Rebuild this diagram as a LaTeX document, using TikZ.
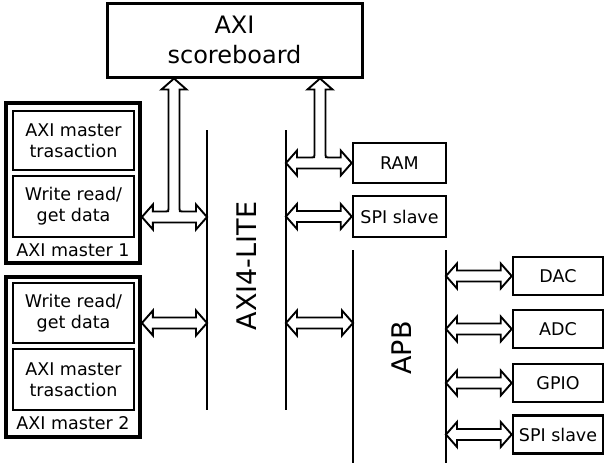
\documentclass[tikz,border=0pt]{standalone}
\usepackage{fontspec}
\setmainfont{DejaVu Sans}
\usetikzlibrary{calc}

% hollow double-headed bus arrows
\newcommand\ahlen{11pt}
\newcommand\ahwid{12.5pt}
\newcommand\ashaft{5.5pt}
\newcommand\biarrow[2]{%
  \draw[hollow] let \p1=(#1), \p2=(#2) in
    (\x1,\y1) -- (\x1+\ahlen,\y1+\ahwid) -- (\x1+\ahlen,\y1+\ashaft)
    -- (\x2-\ahlen,\y1+\ashaft) -- (\x2-\ahlen,\y1+\ahwid) -- (\x2,\y1)
    -- (\x2-\ahlen,\y1-\ahwid) -- (\x2-\ahlen,\y1-\ashaft)
    -- (\x1+\ahlen,\y1-\ashaft) -- (\x1+\ahlen,\y1-\ahwid) -- cycle;}
% same, with a third head going up to the scoreboard
\newcommand\tarrow[3]{%
  \draw[hollow] let \p1=(#1), \p2=(#2), \p3=(#3) in
    (\x1,\y1) -- (\x1+\ahlen,\y1+\ahwid) -- (\x1+\ahlen,\y1+\ashaft)
    -- (\x3-\ashaft-3pt,\y1+\ashaft) .. controls (\x3-\ashaft,\y1+\ashaft) .. (\x3-\ashaft,\y1+\ashaft+3pt)
    -- (\x3-\ashaft,\y3-\ahlen) -- (\x3-\ahwid,\y3-\ahlen) -- (\x3,\y3)
    -- (\x3+\ahwid,\y3-\ahlen) -- (\x3+\ashaft,\y3-\ahlen)
    -- (\x3+\ashaft,\y1+\ashaft+3pt) .. controls (\x3+\ashaft,\y1+\ashaft) .. (\x3+\ashaft+3pt,\y1+\ashaft)
    -- (\x2-\ahlen,\y1+\ashaft) -- (\x2-\ahlen,\y1+\ahwid) -- (\x2,\y1)
    -- (\x2-\ahlen,\y1-\ahwid) -- (\x2-\ahlen,\y1-\ashaft)
    -- (\x1+\ahlen,\y1-\ashaft) -- (\x1+\ahlen,\y1-\ahwid) -- cycle;}

\begin{document}
\begin{tikzpicture}[x=1pt,y=-1pt,
  box/.style={draw,line width=2.6pt,align=center,inner sep=0pt,
    font=\fontsize{17.5}{21}\selectfont},
  outer/.style={draw,line width=3.8pt,minimum width=134,minimum height=160},
  lbl/.style={font=\fontsize{17.5}{21}\selectfont,inner sep=0pt},
  buslbl/.style={font=\fontsize{27}{32}\selectfont,rotate=90,inner sep=0pt},
  bus/.style={line width=1.9pt},
  hollow/.style={draw,fill=white,line width=1.9pt,line join=miter}]
\useasboundingbox (0,0) rectangle (605,464);

% scoreboard
\node[box,line width=3pt,minimum width=255,minimum height=74,
  font=\fontsize{24}{30}\selectfont] (sb) at (234.5,40) {AXI\\scoreboard};

% masters
\node[outer] (m1) at (73,183) {};
\node[box,minimum width=121,minimum height=59] (m1t) at (73.5,140.5) {AXI master\\trasaction};
\node[box,minimum width=121,minimum height=61] (m1d) at (73.5,206.5) {Write read/\\get data};
\node[lbl] (m1l) at (73,250) {AXI master 1};
\node[outer] (m2) at (73,357) {};
\node[box,minimum width=121,minimum height=60] (m2d) at (73.5,313) {Write read/\\get data};
\node[box,minimum width=121,minimum height=61] (m2t) at (73.5,379.5) {AXI master\\trasaction};
\node[lbl] (m2l) at (73,423) {AXI master 2};

% AXI4-LITE bus
\coordinate (liteL) at (207,130);
\coordinate (liteR) at (286,130);
\draw[bus] (liteL) -- (liteL |- 0,410);
\draw[bus] (liteR) -- (liteR |- 0,410);
\node[buslbl] (lite) at (247,266) {AXI4-LITE};

% slaves on AXI4-LITE
\node[box,minimum width=93,minimum height=40] (ram) at (399.5,163) {RAM};
\node[box,minimum width=93,minimum height=41] (spi1) at (399.5,216.5) {SPI slave};

% APB bus
\coordinate (apbL) at (353,250);
\coordinate (apbR) at (446,250);
\draw[bus] (apbL) -- (apbL |- 0,463);
\draw[bus] (apbR) -- (apbR |- 0,463);
\node[buslbl] (apb) at (402,348) {APB};

% slaves on APB
\foreach \y/\name/\txt in {276/dac/DAC,329/adc/ADC,383/gpio/GPIO,434.5/spi2/SPI slave}
  \node[box,minimum width=90,minimum height=38] (\name) at (558,\y) {\txt};

% connections
\tarrow{m1.east |- 0,217}{liteL |- 0,217}{sb.south -| 174,0}
\biarrow{m2.east |- 0,323}{liteL |- 0,323}
\tarrow{liteR |- ram}{ram.west}{sb.south -| 320,0}
\biarrow{liteR |- spi1}{spi1.west}
\biarrow{liteR |- 0,323}{apbL |- 0,323}
\foreach \name in {dac,adc,gpio,spi2}
  \biarrow{apbR |- \name}{\name.west};
\end{tikzpicture}
\end{document}
